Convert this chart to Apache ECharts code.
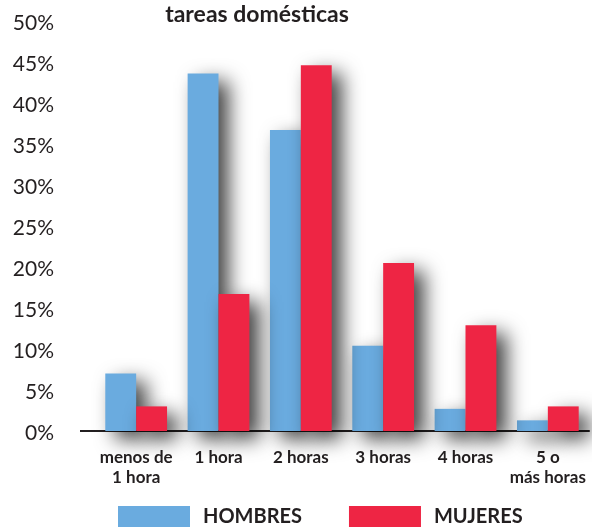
<!DOCTYPE html>
<html><head><meta charset="utf-8">
<script src="https://cdn.jsdelivr.net/npm/echarts@6/dist/echarts.min.js"></script>
<style>html,body{margin:0;padding:0;background:#fff}#c{width:592px;height:527px}</style>
</head><body><div id="c"></div>
<script>
const categories = ['menos de\n1 hora', '1 hora', '2 horas', '3 horas', '4 horas', '5 o\nmás horas'];
const hombres = [7.0, 43.6, 36.7, 10.4, 2.7, 1.3];
const mujeres = [3.0, 16.7, 44.6, 20.5, 12.9, 3.0];
const seriesNames = ['HOMBRES', 'MUJERES'];
const titleText = 'tareas domésticas';

const FONT = 'Lato, "Noto Sans", sans-serif';
const INK = '#231f20';
const chart = echarts.init(document.getElementById('c'), null, {renderer: 'canvas'});
const shadow = {shadowBlur: 20, shadowColor: 'rgba(0,0,0,0.75)', shadowOffsetX: 10, shadowOffsetY: 8};
chart.setOption({
  animation: false,
  title: {text: titleText, left: 252, top: -2, textAlign: 'center',
    textStyle: {fontFamily: FONT, fontSize: 23, fontWeight: 'bold', color: INK}},
  legend: {left: 118, top: 506, itemWidth: 72, itemHeight: 22, itemGap: 47, icon: 'rect', padding: 0,
    textStyle: {fontFamily: FONT, fontSize: 20, fontWeight: 'bold', color: INK, padding: [0, 0, 0, 8]},
    data: seriesNames},
  grid: {left: 95, right: 3, top: 21, bottom: 96, containLabel: false},
  xAxis: {type: 'category', data: categories,
    axisLine: {lineStyle: {color: INK, width: 2}}, axisTick: {show: false},
    axisLabel: {fontFamily: FONT, fontSize: 17, fontWeight: 'bold', color: INK, lineHeight: 20, margin: 17, interval: 0}},
  yAxis: {type: 'value', min: 0, max: 50, interval: 5,
    splitLine: {show: false}, axisLine: {show: false}, axisTick: {show: false},
    axisLabel: {formatter: '{value}%', fontFamily: FONT, fontSize: 21, color: INK, margin: 41, verticalAlign: 'top', padding: [-8,0,0,0]}},
  series: [
    {name: seriesNames[0], type: 'bar', data: hombres, barGap: '0%', barCategoryGap: '25%',
      itemStyle: Object.assign({color: '#6aabdf'}, shadow)},
    {name: seriesNames[1], type: 'bar', data: mujeres, barGap: '0%', barCategoryGap: '25%',
      itemStyle: Object.assign({color: '#ee2544'}, shadow)}
  ]
});
const y0 = chart.convertToPixel({yAxisIndex: 0}, 0);
chart.setOption({graphic: [{type: 'line', shape: {x1: 80, y1: y0, x2: 96, y2: y0}, style: {stroke: INK, lineWidth: 2}}]});
</script></body></html>
